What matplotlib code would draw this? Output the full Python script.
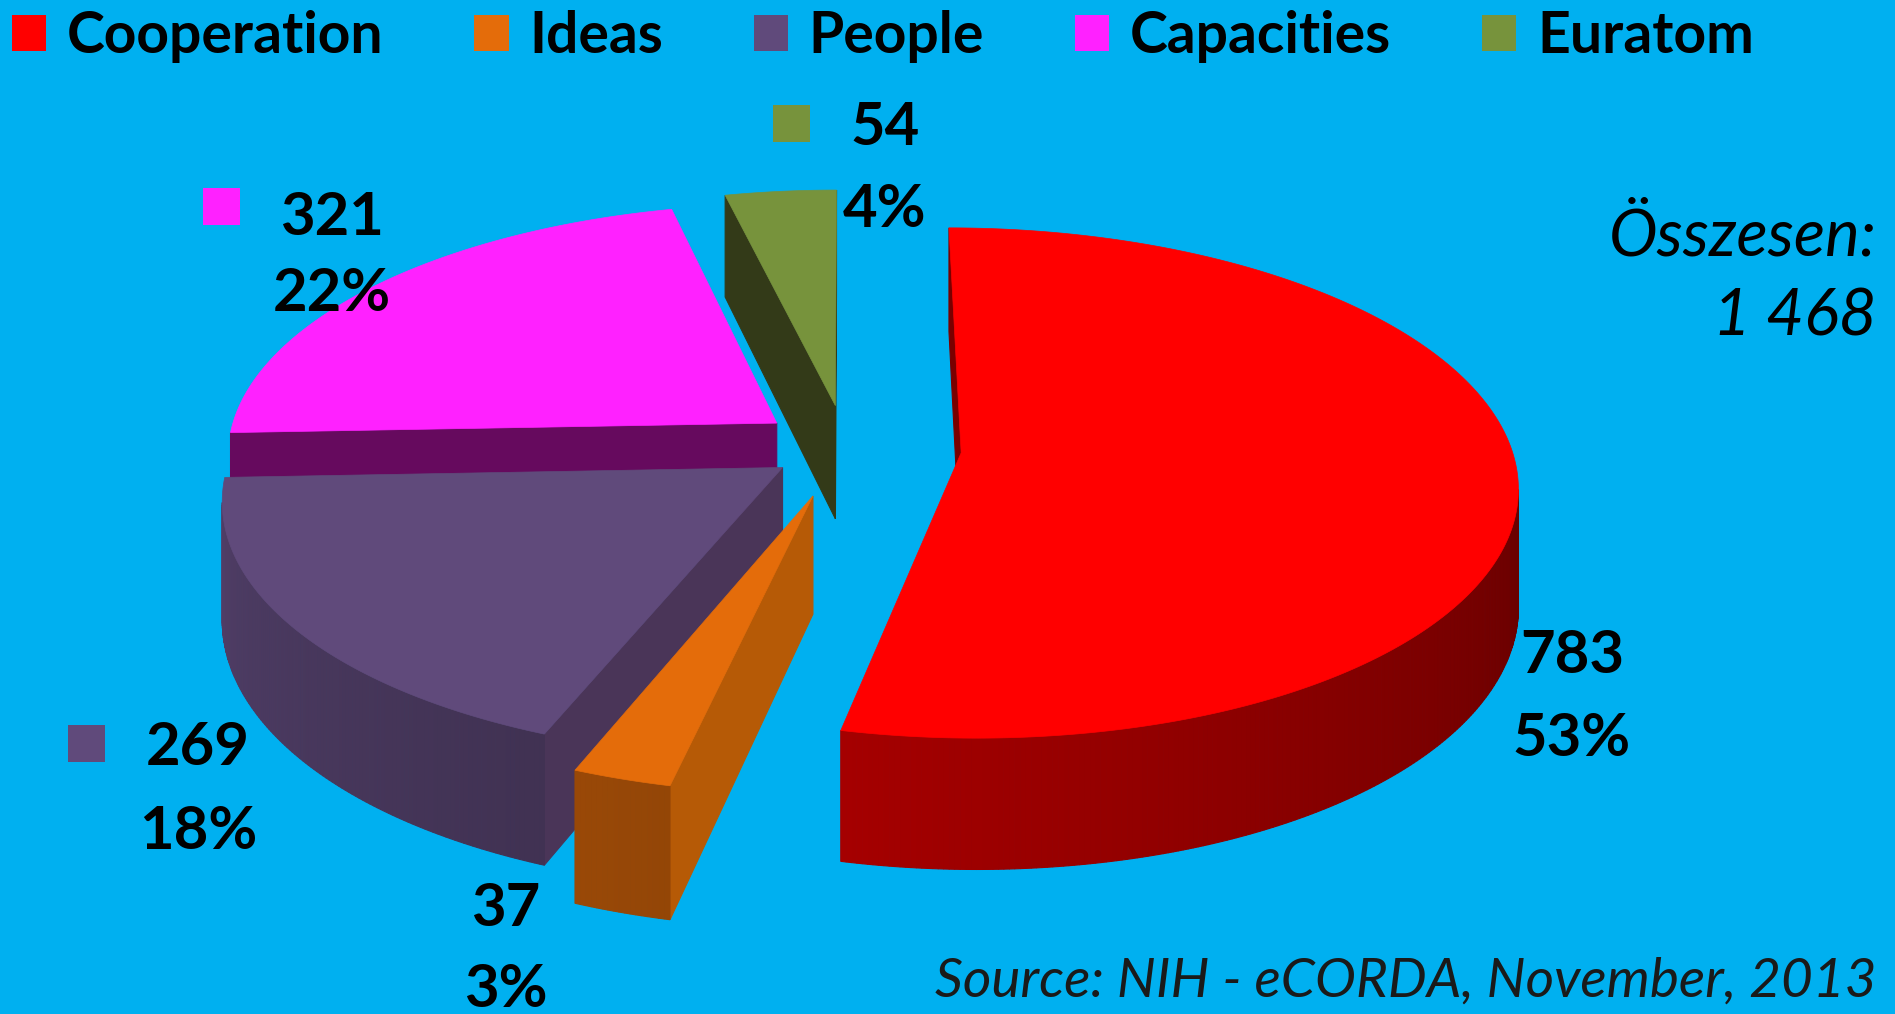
import numpy as np
import matplotlib
matplotlib.use("Agg")
import matplotlib.pyplot as plt
from matplotlib.colors import to_rgb
from matplotlib.patches import Patch, Rectangle

# data
categories = ['Cooperation', 'Ideas', 'People', 'Capacities', 'Euratom']
counts = [783, 37, 269, 321, 54]
colors = ['#FF0000', '#E46C0A', '#604A7B', '#FF21FF', '#77933C']
cut_colors = ['#7A0000', '#B65A06', '#4A3558', '#660A5E', '#333A18']
explode = [0.21, 0.20, 0.14, 0.16, 0.17]
total_title = 'Összesen:'
total_label = '1 468'
source = 'Source: NIH - eCORDA, November, 2013'

BG = '#00B0F0'
W, H = 1895, 1014
TILT = 0.455    # squash of the pie plane
PERSP = 0.118   # rear part drawn smaller
DEPTH = 0.21


def proj(x, y, z):
    p = 1.0 / (1.0 + PERSP * y)
    return x * p, (TILT * y + z) * p


def area(pts):
    pts = np.asarray(pts)
    x, y = pts[:, 0], pts[:, 1]
    return 0.5 * np.sum(x * np.roll(y, -1) - np.roll(x, -1) * y)


def shade(c, f):
    r, g, b = to_rgb(c)
    return (r * f, g * f, b * f)


def fxy(x, y):
    # pixel position (from top-left) -> figure fraction
    return x / W, 1 - y / H


fig = plt.figure(figsize=(W / 100, H / 100), dpi=100, facecolor=BG)
ax = fig.add_axes([0, 0, 1, 1])
ax.set_facecolor(BG)
ax.set_xlim(-1.538, 1.907)
ax.set_ylim(-1.031, 0.813)
ax.axis('off')

total = sum(counts)
fracs = np.array(counts) / total
ends = 90 - 360 * np.cumsum(fracs)
starts = ends + 360 * fracs

# back slices first
order = sorted(range(len(counts)),
               key=lambda i: -np.sin(np.radians((starts[i] + ends[i]) / 2)))

for i in order:
    a_s, a_e = starts[i], ends[i]
    mid = np.radians((a_s + a_e) / 2)
    ox, oy = explode[i] * np.cos(mid), explode[i] * np.sin(mid)
    n = max(int((a_s - a_e) * 2), 4)
    arc = np.radians(np.linspace(a_s, a_e, n))
    vt = proj(ox, oy, 0)
    vb = proj(ox, oy, -DEPTH)

    # cut faces
    for k, a in enumerate((arc[0], arc[-1])):
        rx, ry = ox + np.cos(a), oy + np.sin(a)
        quad = [vt, proj(rx, ry, 0), proj(rx, ry, -DEPTH), vb]
        s = area(quad)
        if (k == 0 and s > 0) or (k == 1 and s < 0):
            xs, ys = zip(*quad)
            ax.fill(xs, ys, color=cut_colors[i], ec=cut_colors[i], lw=0.8)

    # outer wall, darker towards the right
    for a1, a2 in zip(arc[:-1], arc[1:]):
        p1 = (ox + np.cos(a1), oy + np.sin(a1))
        p2 = (ox + np.cos(a2), oy + np.sin(a2))
        quad = [proj(*p1, 0), proj(*p2, 0), proj(*p2, -DEPTH), proj(*p1, -DEPTH)]
        if area(quad) > 0:
            m = (np.degrees((a1 + a2) / 2) + 180) % 360 - 180
            f = min(0.38 + 0.47 * abs(m) / 180, 0.86)
            c = shade(colors[i], f)
            xs, ys = zip(*quad)
            ax.fill(xs, ys, color=c, ec=c, lw=0.8)

    # top face
    top = [vt] + [proj(ox + np.cos(a), oy + np.sin(a), 0) for a in arc]
    xs, ys = zip(*top)
    ax.fill(xs, ys, color=colors[i], ec=colors[i], lw=0.5)

# legend at top
handles = [Patch(facecolor=c, edgecolor='none') for c in colors]
fig.legend(handles, categories, loc='upper left', bbox_to_anchor=fxy(12, 10),
           ncol=5, frameon=False, handlelength=0.6, handleheight=0.6,
           handletextpad=0.36, columnspacing=1.6, borderpad=0, borderaxespad=0,
           prop=dict(family='Lato', weight='bold', size=41))

# data labels
pct = [f'{round(100 * v / total)}%' for v in counts]
lab_pos = [(1572, 656, 739), (506, 909, 990), (198, 748, 832),
           (332, 218, 294), (885, 128, 210)]
key_pos = [None, None, (68, 725), (203, 188), (773, 105)]
lab_font = dict(family='Lato', weight='bold', size=43, color='black',
                ha='center', va='center')
for i in range(len(counts)):
    x, y1, y2 = lab_pos[i]
    fig.text(*fxy(x, y1), str(counts[i]), **lab_font)
    fig.text(*fxy(x, y2), pct[i], **lab_font)
    if key_pos[i] is not None:
        kx, ky = key_pos[i]
        fig.add_artist(Rectangle(fxy(kx, ky + 37), 37 / W, 37 / H,
                                 transform=fig.transFigure,
                                 facecolor=colors[i], edgecolor='none'))

fig.text(*fxy(1877, 236), total_title, ha='right', va='center',
         family='Lato', style='italic', size=47)
fig.text(*fxy(1877, 317), total_label, ha='right', va='center',
         family='Lato', style='italic', size=47)
fig.text(*fxy(1877, 981), source, ha='right', va='center',
         family='Lato', style='italic', size=39.5, color='#1a1a1a')

fig.savefig('out.png', dpi=100, facecolor=BG)
